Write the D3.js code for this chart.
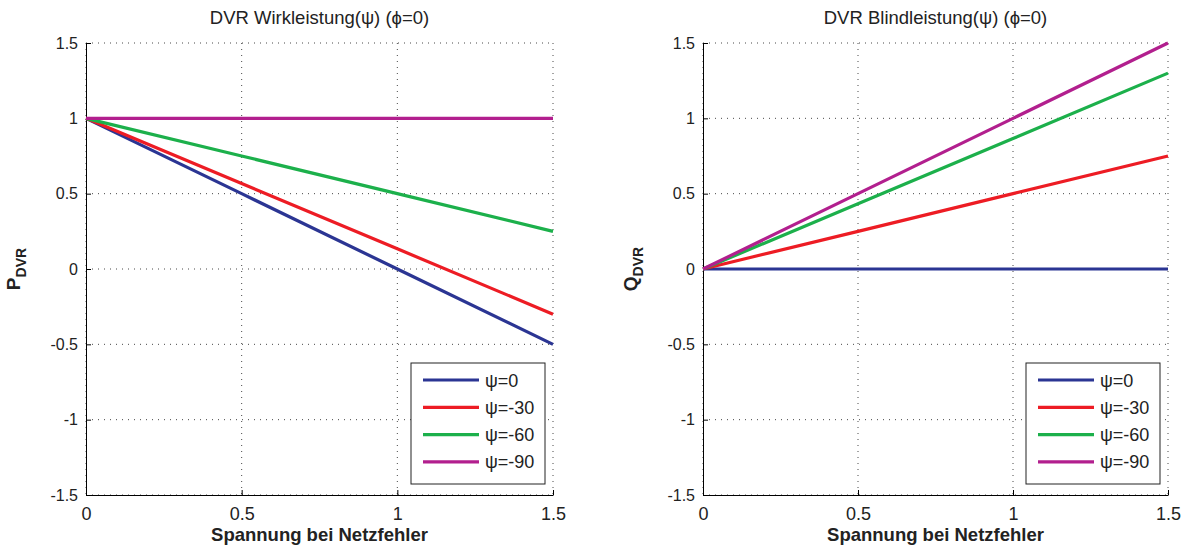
<!DOCTYPE html>
<html><head><meta charset="utf-8">
<script src="https://cdn.jsdelivr.net/npm/d3@7"></script>
<style>body{margin:0;background:#fff}svg{font-family:"Liberation Sans",Arial,sans-serif}</style>
</head><body><svg id="c" width="1189" height="546"></svg>
<script>
const xValues = [0, 0.5, 1, 1.5];
const seriesNames = ["ψ=0", "ψ=-30", "ψ=-60", "ψ=-90"];
const seriesColors = ["#2b3593", "#ed1c24", "#1cb04b", "#b21f8e"];
const pValues = [
  [1, 0.5, 0, -0.5],
  [1, 0.567, 0.134, -0.3],
  [1, 0.75, 0.5, 0.25],
  [1, 1, 1, 1]
];
const qValues = [
  [0, 0, 0, 0],
  [0, 0.25, 0.5, 0.75],
  [0, 0.433, 0.866, 1.3],
  [0, 0.5, 1, 1.5]
];
const xTicks = [0, 0.5, 1, 1.5];
const yTicks = [-1.5, -1, -0.5, 0, 0.5, 1, 1.5];
const panels = [
  {title: "DVR Wirkleistung(ψ) (ϕ=0)", ylab: "P", sub: "DVR", data: pValues, x0: 86, x1: 553},
  {title: "DVR Blindleistung(ψ) (ϕ=0)", ylab: "Q", sub: "DVR", data: qValues, x0: 703, x1: 1168}
];
const svg = d3.select("#c");
const plotTop = 43, plotBottom = 495;
const fmt = d => String(d);
panels.forEach(p => {
  const x = d3.scaleLinear().domain([0, 1.5]).range([p.x0, p.x1]);
  const y = d3.scaleLinear().domain([-1.5, 1.5]).range([plotBottom, plotTop]);
  const g = svg.append("g");
  // grid
  g.selectAll(".gx").data(xTicks).enter().append("line")
    .attr("x1", d => x(d)).attr("x2", d => x(d)).attr("y1", plotTop).attr("y2", plotBottom)
    .attr("stroke", "#333").attr("stroke-width", 0.9).attr("stroke-dasharray", "1,5");
  g.selectAll(".gy").data(yTicks).enter().append("line")
    .attr("y1", d => y(d)).attr("y2", d => y(d)).attr("x1", p.x0).attr("x2", p.x1)
    .attr("stroke", "#333").attr("stroke-width", 0.9).attr("stroke-dasharray", "1,5");
  // axes
  const ax = d3.axisBottom(x).tickValues(xTicks).tickFormat(fmt).tickSizeInner(-5).tickSizeOuter(0).tickPadding(12);
  const gx = g.append("g").attr("transform", `translate(0,${plotBottom})`).call(ax);
  const ay = d3.axisLeft(y).tickValues(yTicks).tickFormat(fmt).tickSizeInner(-5).tickSizeOuter(0).tickPadding(8);
  const gy = g.append("g").attr("transform", `translate(${p.x0},0)`).call(ay);
  [[gx, "18px"], [gy, "16px"]].forEach(([a, fs]) => {
    a.attr("font-family", "Liberation Sans, Arial, sans-serif");
    a.select(".domain").attr("stroke", "#000").attr("stroke-width", 1);
    a.selectAll(".tick line").attr("stroke", "#000");
    a.selectAll(".tick text").style("font-size", fs).attr("fill", "#222");
  });
  // lines
  const line = d3.line().x((d, i) => x(xValues[i])).y(d => y(d));
  p.data.forEach((s, i) => {
    g.append("path").datum(s).attr("d", line).attr("fill", "none")
      .attr("stroke", seriesColors[i]).attr("stroke-width", 3.2);
  });
  // title
  g.append("text").attr("x", (p.x0 + p.x1) / 2).attr("y", 24).attr("text-anchor", "middle")
    .style("font-size", "18.5px").attr("fill", "#222").text(p.title);
  // x label
  g.append("text").attr("x", (p.x0 + p.x1) / 2).attr("y", 541).attr("text-anchor", "middle")
    .style("font-size", "18.5px").attr("font-weight", "bold").attr("fill", "#222").text("Spannung bei Netzfehler");
  // y label
  const yl = g.append("text").attr("transform", `translate(${p.x0 - 66},${(plotTop + plotBottom) / 2}) rotate(-90)`)
    .attr("text-anchor", "middle").style("font-size", "19px").attr("font-weight", "bold").attr("fill", "#222");
  yl.append("tspan").text(p.ylab);
  yl.append("tspan").attr("dy", 6).style("font-size", "14px").text(p.sub);
  // legend
  const lx = p.x1 - 142, ly = 363, lw = 134, lh = 121;
  const lg = g.append("g");
  lg.append("rect").attr("x", lx).attr("y", ly).attr("width", lw).attr("height", lh)
    .attr("fill", "#fff").attr("stroke", "#222").attr("stroke-width", 1);
  seriesNames.forEach((n, i) => {
    const yy = ly + 17 + i * 27.3;
    lg.append("line").attr("x1", lx + 12).attr("x2", lx + 68).attr("y1", yy).attr("y2", yy)
      .attr("stroke", seriesColors[i]).attr("stroke-width", 3.2);
    lg.append("text").attr("x", lx + 74).attr("y", yy + 6.5).style("font-size", "18px").attr("fill", "#222").text(n);
  });
});
</script></body></html>
